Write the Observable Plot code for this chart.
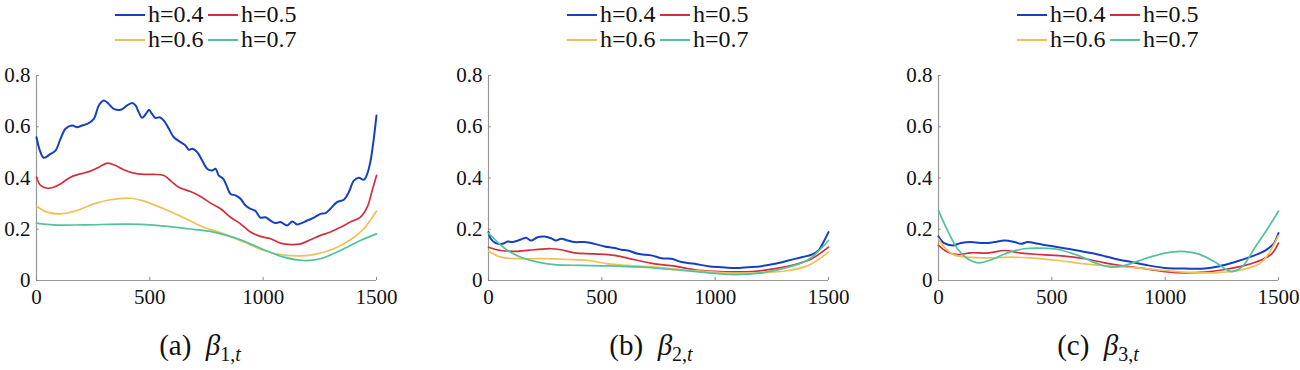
<!DOCTYPE html>
<html>
<head>
<meta charset="utf-8">
<script src="https://cdn.jsdelivr.net/npm/d3@7"></script>
<script src="https://cdn.jsdelivr.net/npm/@observablehq/plot@0.6"></script>
<style>
  html, body { margin: 0; padding: 0; background: #fff; }
  #root { position: relative; width: 1300px; height: 370px; overflow: hidden; color: #111;
          font-family: "Liberation Serif", "Times New Roman", serif; }
  .panel { position: absolute; top: 0; width: 450px; height: 370px; }
  .legend { position: absolute; top: 2px; display: grid; grid-template-columns: 93px 93px; grid-auto-rows: 25px; font-size: 24px; }
  .legend .item { display: flex; align-items: center; white-space: nowrap; }
  .legend .swatch { display: inline-block; width: 30px; height: 2px; margin-right: 3px; flex: none; }
  .caption { position: absolute; top: 329px; transform: translateX(-50%); font-size: 29px; white-space: nowrap; }
  .caption sub { font-size: 20px; vertical-align: -6px; }
</style>
</head>
<body>
<div id="root"></div>
<script>
// Bandwidth settings and their line colours
const bandwidths = ["h=0.4", "h=0.5", "h=0.6", "h=0.7"];
const colors = ["#1540c0", "#d42e3c", "#f0bf55", "#52c29e"];

// Axis ticks
const xTicks = [0, 500, 1000, 1500];
const yTicks = [0, 0.2, 0.4, 0.6, 0.8];

// Panel captions
const captions = [
  ["(a)", "1"],
  ["(b)", "2"],
  ["(c)", "3"]
];

// beta_{1,t} estimates: [t, value]
const b1_h04 = [[0,0.559],[15,0.507],[32,0.479],[62,0.494],[84,0.507],[106,0.553],[128,0.592],[157,0.605],[179,0.598],[201,0.605],[224,0.611],[253,0.631],[275,0.683],[297,0.702],[319,0.689],[341,0.670],[371,0.666],[400,0.683],[422,0.693],[437,0.683],[451,0.657],[466,0.635],[488,0.657],[496,0.666],[510,0.650],[525,0.634],[544,0.637],[562,0.624],[584,0.592],[606,0.559],[635,0.540],[657,0.527],[672,0.510],[687,0.514],[709,0.501],[731,0.468],[753,0.436],[775,0.429],[790,0.436],[804,0.410],[824,0.397],[838,0.371],[856,0.338],[878,0.332],[900,0.319],[922,0.293],[944,0.280],[966,0.271],[988,0.245],[1010,0.247],[1032,0.234],[1054,0.224],[1076,0.228],[1106,0.215],[1128,0.230],[1150,0.219],[1172,0.225],[1194,0.234],[1224,0.245],[1253,0.260],[1275,0.263],[1297,0.280],[1326,0.306],[1356,0.315],[1378,0.345],[1400,0.390],[1422,0.401],[1444,0.393],[1459,0.416],[1474,0.468],[1488,0.553],[1500,0.644]];
const b1_h05 = [[0,0.403],[18,0.371],[47,0.360],[76,0.364],[106,0.377],[150,0.403],[194,0.416],[238,0.427],[275,0.442],[312,0.458],[349,0.449],[385,0.432],[429,0.419],[474,0.414],[518,0.414],[562,0.410],[591,0.390],[628,0.364],[679,0.347],[724,0.328],[768,0.302],[812,0.280],[856,0.247],[900,0.221],[944,0.189],[988,0.172],[1032,0.163],[1076,0.146],[1121,0.140],[1165,0.143],[1209,0.159],[1253,0.176],[1297,0.189],[1341,0.208],[1385,0.228],[1429,0.247],[1459,0.286],[1481,0.351],[1500,0.410]];
const b1_h06 = [[0,0.290],[47,0.267],[106,0.260],[179,0.273],[253,0.299],[326,0.315],[415,0.321],[474,0.310],[562,0.280],[650,0.245],[738,0.208],[826,0.182],[915,0.150],[1003,0.117],[1076,0.101],[1165,0.096],[1238,0.104],[1312,0.124],[1385,0.159],[1444,0.202],[1500,0.271]];
const b1_h07 = [[0,0.224],[76,0.217],[209,0.217],[400,0.220],[518,0.216],[665,0.202],[782,0.189],[900,0.159],[1003,0.120],[1091,0.091],[1179,0.078],[1253,0.085],[1341,0.117],[1429,0.156],[1500,0.182]];

// beta_{2,t} estimates
const b2_h04 = [[0,0.189],[10,0.163],[32,0.146],[62,0.143],[84,0.152],[106,0.150],[143,0.160],[165,0.167],[187,0.156],[217,0.169],[246,0.172],[276,0.165],[298,0.156],[320,0.163],[350,0.156],[379,0.150],[423,0.150],[468,0.143],[512,0.133],[556,0.127],[586,0.120],[615,0.117],[659,0.104],[718,0.098],[763,0.087],[807,0.085],[851,0.072],[910,0.065],[969,0.056],[1028,0.052],[1087,0.049],[1146,0.052],[1205,0.056],[1264,0.065],[1323,0.078],[1382,0.091],[1426,0.101],[1456,0.117],[1478,0.150],[1500,0.189]];
const b2_h05 = [[0,0.130],[55,0.117],[128,0.114],[202,0.120],[276,0.124],[320,0.120],[379,0.108],[468,0.104],[556,0.098],[645,0.081],[733,0.065],[822,0.056],[910,0.042],[999,0.036],[1087,0.034],[1176,0.036],[1264,0.046],[1352,0.062],[1426,0.085],[1500,0.130]];
const b2_h06 = [[0,0.114],[55,0.091],[128,0.085],[232,0.085],[350,0.082],[438,0.078],[527,0.065],[615,0.059],[733,0.052],[851,0.042],[969,0.035],[1087,0.029],[1205,0.030],[1323,0.039],[1412,0.059],[1500,0.111]];
const b2_h07 = [[0,0.185],[40,0.150],[84,0.117],[143,0.091],[217,0.072],[291,0.062],[409,0.059],[527,0.057],[674,0.052],[822,0.042],[969,0.030],[1087,0.023],[1205,0.030],[1323,0.052],[1412,0.082],[1500,0.156]];

// beta_{3,t} estimates
const b3_h04 = [[0,0.172],[25,0.146],[62,0.137],[99,0.146],[143,0.150],[180,0.147],[209,0.146],[246,0.150],[291,0.156],[335,0.150],[364,0.143],[394,0.150],[438,0.143],[482,0.137],[527,0.130],[571,0.124],[615,0.117],[674,0.107],[733,0.095],[792,0.082],[851,0.072],[925,0.059],[999,0.049],[1087,0.047],[1161,0.046],[1235,0.055],[1308,0.072],[1382,0.094],[1441,0.117],[1478,0.143],[1500,0.185]];
const b3_h05 = [[0,0.137],[40,0.111],[84,0.101],[143,0.108],[217,0.107],[291,0.117],[364,0.107],[453,0.101],[556,0.095],[645,0.085],[733,0.069],[822,0.056],[910,0.046],[999,0.035],[1087,0.030],[1176,0.033],[1264,0.043],[1352,0.059],[1426,0.081],[1470,0.104],[1500,0.146]];
const b3_h06 = [[0,0.163],[32,0.124],[69,0.100],[128,0.091],[217,0.088],[320,0.091],[409,0.088],[527,0.078],[645,0.065],[763,0.056],[881,0.049],[999,0.039],[1117,0.031],[1235,0.031],[1338,0.042],[1426,0.072],[1500,0.176]];
const b3_h07 = [[0,0.273],[40,0.195],[84,0.124],[128,0.085],[180,0.069],[232,0.081],[305,0.108],[379,0.124],[453,0.126],[527,0.121],[615,0.098],[704,0.065],[763,0.052],[822,0.059],[910,0.085],[999,0.107],[1072,0.114],[1146,0.104],[1220,0.072],[1264,0.046],[1293,0.035],[1338,0.052],[1397,0.130],[1456,0.208],[1500,0.271]];

const panels = [
  [b1_h04, b1_h05, b1_h06, b1_h07],
  [b2_h04, b2_h05, b2_h06, b2_h07],
  [b3_h04, b3_h05, b3_h06, b3_h07]
];
const offsets = [0, 452, 902];
const captionCenters = [200, 199, 196];
const font = "Liberation Serif";

const root = document.getElementById("root");

panels.forEach((series, i) => {
  const panel = document.createElement("div");
  panel.className = "panel";
  panel.style.left = offsets[i] + "px";

  // legend: two rows of two entries
  const legend = document.createElement("div");
  legend.className = "legend";
  legend.style.left = "115px";
  bandwidths.forEach((b, k) => {
    const item = document.createElement("div");
    item.className = "item";
    const sw = document.createElement("span");
    sw.className = "swatch";
    sw.style.background = colors[k];
    item.appendChild(sw);
    item.appendChild(document.createTextNode(b));
    legend.appendChild(item);
  });
  panel.appendChild(legend);

  const rows = [];
  series.forEach((s, k) => s.forEach(([t, v]) => rows.push({t, v, h: bandwidths[k]})));

  const chart = Plot.plot({
    width: 420,
    height: 260,
    marginLeft: 36,
    marginRight: 44,
    marginTop: 15,
    marginBottom: 40,
    style: {background: "transparent", overflow: "visible", color: "#111", fontFamily: `"${font}", serif`, fontSize: "21px"},
    x: {domain: [0, 1500]},
    y: {domain: [0, 0.8]},
    color: {domain: bandwidths, range: colors},
    marks: [
      Plot.ruleY([0], {stroke: "#999", strokeWidth: 1.2}),
      Plot.ruleX([0], {stroke: "#999", strokeWidth: 1.2}),
      Plot.ruleX(xTicks, {x: d => d, y1: 0, y2: 0.012, stroke: "#888"}),
      Plot.ruleY(yTicks, {y: d => d, x1: 0, x2: 12, stroke: "#888"}),
      Plot.axisX({ticks: xTicks, tickSize: 0, tickPadding: 9, tickFormat: d => String(d), label: null,
                  fontFamily: font, fontSize: 21, fill: "#111"}),
      Plot.axisY({ticks: yTicks, tickSize: 0, tickPadding: 6, tickFormat: d => d === 0 ? "0" : d.toFixed(1), label: null,
                  fontFamily: font, fontSize: 21, fill: "#111"}),
      Plot.line(rows, {x: "t", y: "v", z: "h", stroke: "h", strokeWidth: d => d.h === "h=0.4" ? 2 : 1.7, curve: "catmull-rom"})
    ]
  });
  chart.style.position = "absolute";
  chart.style.top = "60px";
  chart.style.left = "0px";
  panel.appendChild(chart);

  const cap = document.createElement("div");
  cap.className = "caption";
  cap.style.left = captionCenters[i] + "px";
  cap.innerHTML = captions[i][0] + "&ensp;<i>&beta;</i><sub>" + captions[i][1] + ",<i>t</i></sub>";
  panel.appendChild(cap);

  root.appendChild(panel);
});
</script>
</body>
</html>
